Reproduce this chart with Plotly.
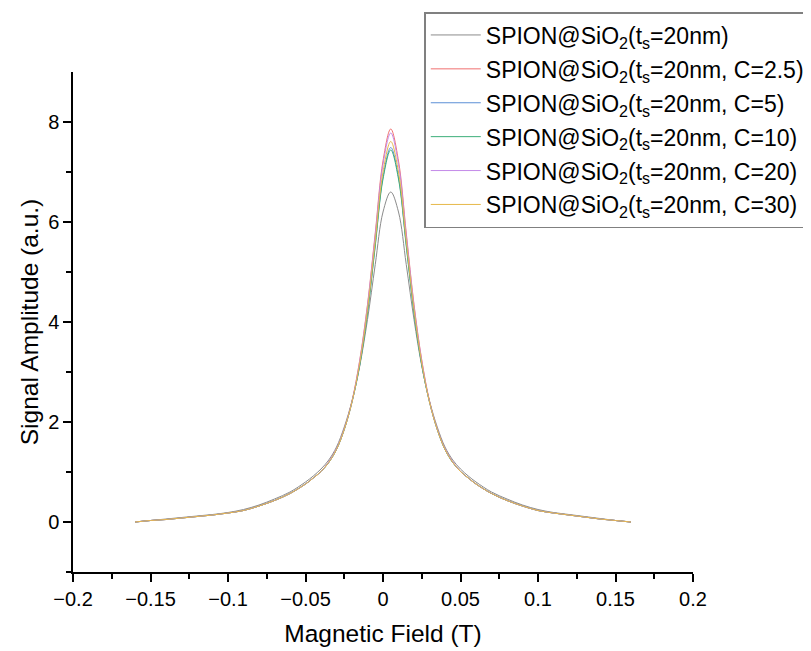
import plotly.graph_objects as go

# Magnetic field (T) sample positions
field = [-0.16, -0.15, -0.14, -0.13, -0.12, -0.11, -0.10, -0.09, -0.08, -0.07, -0.06,
         -0.05, -0.045, -0.04, -0.035, -0.03, -0.025, -0.02, -0.015, -0.01, -0.005,
         0.0, 0.005, 0.01, 0.015, 0.02, 0.025, 0.03, 0.035, 0.04, 0.045, 0.05, 0.055,
         0.06, 0.07, 0.08, 0.09, 0.10, 0.11, 0.12, 0.13, 0.14, 0.15, 0.16]

amp_ts20 = [0.00, 0.03, 0.06, 0.09, 0.12, 0.15, 0.19, 0.25, 0.34, 0.46, 0.60,
            0.80, 0.92, 1.06, 1.24, 1.50, 1.90, 2.42, 3.12, 4.05, 5.15,
            6.20, 6.60, 6.20, 5.15, 4.05, 3.12, 2.42, 1.90, 1.50, 1.24, 1.06, 0.92,
            0.80, 0.60, 0.46, 0.34, 0.25, 0.19, 0.15, 0.11, 0.07, 0.03, 0.00]
amp_c2_5 = [0.00, 0.03, 0.05, 0.08, 0.11, 0.14, 0.18, 0.23, 0.32, 0.43, 0.57,
            0.76, 0.88, 1.01, 1.20, 1.46, 1.86, 2.42, 3.24, 4.35, 5.78,
            7.22, 7.86, 7.22, 5.78, 4.35, 3.24, 2.42, 1.86, 1.46, 1.20, 1.01, 0.88,
            0.76, 0.57, 0.43, 0.32, 0.23, 0.18, 0.14, 0.10, 0.06, 0.03, 0.00]
amp_c5 = [0.00, 0.03, 0.05, 0.08, 0.11, 0.14, 0.18, 0.23, 0.32, 0.43, 0.57,
          0.76, 0.88, 1.01, 1.19, 1.45, 1.85, 2.40, 3.15, 4.20, 5.55,
          6.90, 7.49, 6.90, 5.55, 4.20, 3.15, 2.40, 1.85, 1.45, 1.19, 1.01, 0.88,
          0.76, 0.57, 0.43, 0.32, 0.23, 0.18, 0.14, 0.10, 0.06, 0.03, 0.00]
amp_c10 = [0.00, 0.03, 0.05, 0.08, 0.11, 0.14, 0.18, 0.23, 0.32, 0.43, 0.57,
           0.76, 0.88, 1.01, 1.19, 1.45, 1.85, 2.40, 3.14, 4.18, 5.52,
           6.86, 7.44, 6.86, 5.52, 4.18, 3.14, 2.40, 1.85, 1.45, 1.19, 1.01, 0.88,
           0.76, 0.57, 0.43, 0.32, 0.23, 0.18, 0.14, 0.10, 0.06, 0.03, 0.00]
amp_c20 = [0.00, 0.03, 0.05, 0.08, 0.11, 0.14, 0.18, 0.23, 0.32, 0.43, 0.57,
           0.76, 0.88, 1.01, 1.20, 1.46, 1.86, 2.41, 3.22, 4.32, 5.73,
           7.15, 7.78, 7.15, 5.73, 4.32, 3.22, 2.41, 1.86, 1.46, 1.20, 1.01, 0.88,
           0.76, 0.57, 0.43, 0.32, 0.23, 0.18, 0.14, 0.10, 0.06, 0.03, 0.00]
amp_c30 = [0.00, 0.03, 0.05, 0.08, 0.11, 0.14, 0.18, 0.23, 0.32, 0.43, 0.57,
           0.76, 0.88, 1.01, 1.19, 1.45, 1.85, 2.40, 3.18, 4.25, 5.62,
           7.00, 7.61, 7.00, 5.62, 4.25, 3.18, 2.40, 1.85, 1.45, 1.19, 1.01, 0.88,
           0.76, 0.57, 0.43, 0.32, 0.23, 0.18, 0.14, 0.10, 0.06, 0.03, 0.00]

series_names = [
    "SPION@SiO<sub>2</sub>(t<sub>s</sub>=20nm)",
    "SPION@SiO<sub>2</sub>(t<sub>s</sub>=20nm, C=2.5)",
    "SPION@SiO<sub>2</sub>(t<sub>s</sub>=20nm, C=5)",
    "SPION@SiO<sub>2</sub>(t<sub>s</sub>=20nm, C=10)",
    "SPION@SiO<sub>2</sub>(t<sub>s</sub>=20nm, C=20)",
    "SPION@SiO<sub>2</sub>(t<sub>s</sub>=20nm, C=30)",
]
series_values = [amp_ts20, amp_c2_5, amp_c5, amp_c10, amp_c20, amp_c30]
series_colors = ["#8c8c8c", "#f07070", "#5b8fd6", "#3cae7a", "#c48ae8", "#e6b84a"]

x_ticks = [-0.2, -0.15, -0.1, -0.05, 0, 0.05, 0.1, 0.15, 0.2]
x_tick_text = ["\u22120.2", "\u22120.15", "\u22120.1", "\u22120.05", "0", "0.05", "0.1", "0.15", "0.2"]
y_ticks = [0, 2, 4, 6, 8]

FONT = "Arial, 'Liberation Sans', sans-serif"

fig = go.Figure()
for i, (name, vals, col) in enumerate(zip(series_names, series_values, series_colors)):
    fig.add_trace(go.Scatter(x=field, y=vals, name=name, mode="lines", legendgroup=f"g{i}",
                             line=dict(color=col, width=1, shape="spline", smoothing=1.0)))

axis_common = dict(showline=True, linecolor="black", linewidth=1.5, ticks="outside",
                   ticklen=8, tickwidth=1.5, tickcolor="black", showgrid=False,
                   zeroline=False, mirror=False,
                   tickfont=dict(family=FONT, size=20, color="black"))

fig.update_xaxes(range=[-0.2, 0.2], tickvals=x_ticks, ticktext=x_tick_text,
                 title=dict(text="Magnetic Field (T)", font=dict(family=FONT, size=24.5, color="black"), standoff=16),
                 minor=dict(tickvals=[-0.175, -0.125, -0.075, -0.025, 0.025, 0.075, 0.125, 0.175],
                            ticks="outside", ticklen=5, tickwidth=1.5, tickcolor="black"),
                 **axis_common)
fig.update_yaxes(range=[-1, 9], tickvals=y_ticks,
                 title=dict(text="Signal Amplitude (a.u.)", font=dict(family=FONT, size=24.5, color="black"), standoff=3),
                 minor=dict(tickvals=[-1, 1, 3, 5, 7],
                            ticks="outside", ticklen=5, tickwidth=1.5, tickcolor="black"),
                 **axis_common)

fig.update_layout(
    width=811, height=651,
    margin=dict(l=65, r=126, t=64, b=87, autoexpand=False),
    plot_bgcolor="white", paper_bgcolor="white",
    font=dict(family=FONT, color="black"),
    legend=dict(x=0.5666, y=1.12, xanchor="left", yanchor="top",
                bgcolor="white", bordercolor="#808080", borderwidth=1.5,
                font=dict(family=FONT, size=23, color="black"),
                itemwidth=50, tracegroupgap=1),
    showlegend=True,
)

fig.write_html("out.html")
